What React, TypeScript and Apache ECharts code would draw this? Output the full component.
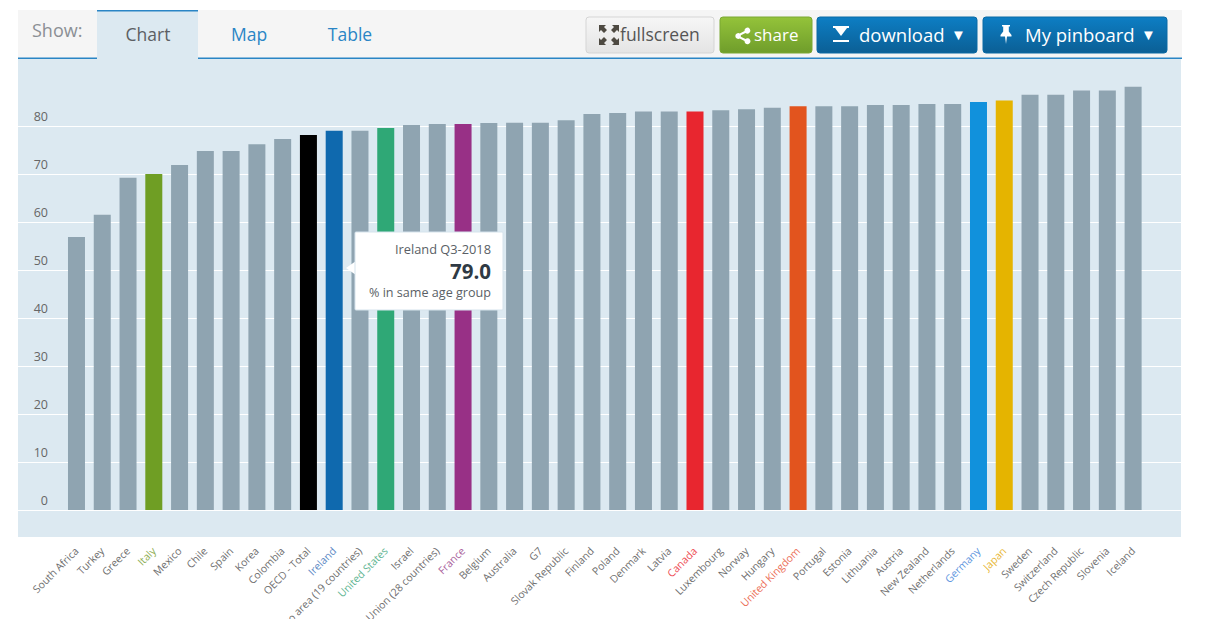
import React, { useEffect, useRef } from "react";
import * as echarts from "echarts";

const categories = ["South Africa","Turkey","Greece","Italy","Mexico","Chile","Spain","Korea","Colombia","OECD - Total","Ireland","Euro area (19 countries)","United States","Israel","European Union (28 countries)","France","Belgium","Australia","G7","Slovak Republic","Finland","Poland","Denmark","Latvia","Canada","Luxembourg","Norway","Hungary","United Kingdom","Portugal","Estonia","Lithuania","Austria","New Zealand","Netherlands","Germany","Japan","Sweden","Switzerland","Czech Republic","Slovenia","Iceland"];
const values = [56.9,61.5,69.2,70.0,71.9,74.8,74.8,76.2,77.3,78.1,79.0,79.0,79.6,80.2,80.4,80.4,80.6,80.7,80.7,81.2,82.5,82.7,83.0,83.0,83.0,83.3,83.5,83.8,84.1,84.1,84.1,84.4,84.4,84.6,84.6,85.0,85.3,86.5,86.5,87.4,87.4,88.2];
const barHighlights: Record<string, string> = { Italy: "#6f9e24", "OECD - Total": "#000000", Ireland: "#0f69ae", "United States": "#2fa876", France: "#983086", Canada: "#e8262f", "United Kingdom": "#e2541e", Germany: "#1191dc", Japan: "#e5b400" };
const labelHighlights: Record<string, string> = { Italy: "#8fae55", Ireland: "#5b88c4", "United States": "#5fb593", France: "#a9619b", Canada: "#ee4d55", "United Kingdom": "#ec6f58", Germany: "#5f97e0", Japan: "#e8b838" };
const tabs = ["Chart", "Map", "Table"];
const tooltipLines = ["Ireland Q3-2018", "79.0", "% in same age group"];
const buttons = ["fullscreen", "share", "download", "My pinboard"];

const FONT = "'Open Sans', 'Noto Sans', sans-serif";
const grad = (a: string, b: string) => new echarts.graphic.LinearGradient(0, 0, 0, 1, [{ offset: 0, color: a }, { offset: 1, color: b }]);

echarts.graphic.registerShape("iconFull", echarts.graphic.extendPath("M0 0H7L5 2L8 5L5 8L2 5L0 7ZM20 0V7L18 5L15 8L12 5L15 2L13 0ZM0 20V13L2 15L5 12L8 15L5 18L7 20ZM20 20H13L15 18L12 15L15 12L18 15L20 13Z", {}));
echarts.graphic.registerShape("iconShare", echarts.graphic.extendPath("M11 0A3 3 0 1 1 10.5 5L5.8 7.3A3 3 0 0 1 5.8 8.7L10.5 11A3 3 0 1 1 9.5 13L4.8 10.6A3 3 0 1 1 4.8 5.4L9.5 3A3 3 0 0 1 11 0Z", {}));
echarts.graphic.registerShape("iconDownload", echarts.graphic.extendPath("M0 0H16V2H14L8 10L2 2H0ZM0 14H16V16H0Z", {}));
echarts.graphic.registerShape("iconPin", echarts.graphic.extendPath("M2 0H10V1.5H8.8V6.5L11.5 10V11.5H7L6 19L5 11.5H0.5V10L3.2 6.5V1.5H2Z", {}));

const txt = (x: number, y: number, text: string, fontSize: number, fill: string, extra: any = {}) => ({
  type: "text", x, y, z: 5,
  style: { text, fontSize, fill, fontFamily: FONT, textVerticalAlign: "middle", verticalAlign: "middle", ...extra },
});
const button = (x: number, w: number, a: string, b: string, stroke: string) => ({
  type: "rect", x, y: 17, z: 3, shape: { width: w, height: 36, r: 3 },
  style: { fill: grad(a, b), stroke, lineWidth: 1 },
});

export default function App() {
  const ref = useRef<HTMLDivElement>(null);
  useEffect(() => {
    const chart = echarts.init(ref.current!, undefined, { renderer: "svg" });
    const tickMax = 90;
    chart.setOption({
      animation: false,
      backgroundColor: "#ffffff",
      textStyle: { fontFamily: FONT },
      grid: [
        { left: 18, width: 1163, top: 78, height: 432, outerBoundsMode: "none" },
        { left: 63.6, width: 1082.4, top: 78, height: 432, outerBoundsMode: "none" },
      ],
      xAxis: [
        { gridIndex: 0, type: "category", data: [], show: false },
        {
          gridIndex: 1, type: "category", data: categories,
          axisLine: { show: false }, axisTick: { show: false },
          axisLabel: {
            interval: 0, rotate: 45, margin: 39, fontSize: 10.5, fontFamily: FONT, padding: [6, 0, 0, 0],
            color: (v: string) => labelHighlights[v] || "#6f6f6f",
          },
        },
      ],
      yAxis: [
        {
          gridIndex: 0, type: "value", min: 0, max: tickMax, interval: 10,
          axisLine: { show: false }, axisTick: { show: false },
          splitLine: { show: true, showMaxLine: false, lineStyle: { color: "#ffffff", width: 1 } },
          axisLabel: {
            inside: true, align: "right", margin: 30, verticalAlign: "bottom", showMaxLabel: false,
            fontSize: 12.5, color: "#666666", fontFamily: FONT, padding: [0, 0, 3, 0],
          },
        },
        { gridIndex: 1, type: "value", min: 0, max: tickMax, show: false },
      ],
      series: [
        {
          type: "bar", xAxisIndex: 1, yAxisIndex: 1, barWidth: 17,
          data: categories.map((c, i) => ({ value: values[i], itemStyle: { color: barHighlights[c] || "#8fa4b1" } })),
        },
      ],
      graphic: [
        { type: "rect", z: -10, x: 18, y: 59, shape: { width: 1163, height: 478 }, style: { fill: "#dce9f1" } },
        { type: "rect", z: -10, x: 18, y: 10, shape: { width: 1164, height: 48 }, style: { fill: "#f5f5f5" } },
        { type: "rect", z: -9, x: 18, y: 57.5, shape: { width: 1164, height: 1.5 }, style: { fill: "#2a85c5" } },
        { type: "rect", z: -8, x: 97, y: 10, shape: { width: 101, height: 49 }, style: { fill: "#dce9f1" } },
        { type: "rect", z: -7, x: 97, y: 10, shape: { width: 101, height: 1.5 }, style: { fill: "#2a85c5" } },
        txt(32, 30, "Show:", 18, "#8b8f94"),
        txt(148, 34, tabs[0], 17.5, "#5c5f63", { textAlign: "center", align: "center" }),
        txt(249, 34, tabs[1], 17.5, "#2a85c5", { textAlign: "center", align: "center" }),
        txt(350, 34, tabs[2], 17.5, "#2a85c5", { textAlign: "center", align: "center" }),

        button(586, 128, "#f6f6f6", "#e4e4e4", "#d5d5d5"),
        { type: "iconFull", x: 599, y: 25, z: 5, style: { fill: "#4e4a42" } },
        txt(620, 34, buttons[0], 17.5, "#555555"),
        button(720, 92, "#94c33a", "#6f9d2b", "#7ba832"),
        { type: "iconShare", x: 735, y: 28, z: 5, style: { fill: "#ffffff" } },
        txt(754, 34, buttons[1], 17, "#ffffff"),
        button(817, 160, "#0d7ec4", "#0b5f95", "#0b6aa5"),
        { type: "iconDownload", x: 833, y: 26, z: 5, style: { fill: "#ffffff" } },
        txt(859, 34, buttons[2], 18.5, "#ffffff"),
        txt(951, 34, "▼", 15, "#ffffff"),
        button(983, 184, "#0d7ec4", "#0b5f95", "#0b6aa5"),
        { type: "iconPin", x: 1000, y: 25, z: 5, style: { fill: "#ffffff" } },
        txt(1025, 34, buttons[3], 18.5, "#ffffff"),
        txt(1141, 34, "▼", 15, "#ffffff"),

        { type: "polygon", z: 20, shape: { points: [[346, 268], [356, 261], [356, 275]] }, style: { fill: "#ffffff" } },
        { type: "rect", z: 20, x: 355, y: 232, shape: { width: 148, height: 78, r: 1 }, style: { fill: "#ffffff", stroke: "#d5e3ec", lineWidth: 1 } },
        { ...txt(491, 249, tooltipLines[0], 12.8, "#5a5f66", { textAlign: "right", align: "right" }), z: 21 },
        { ...txt(491, 271, tooltipLines[1], 20.5, "#2f3a44", { textAlign: "right", align: "right", fontWeight: "bold" }), z: 21 },
        { ...txt(491, 292, tooltipLines[2], 12.6, "#5a5f66", { textAlign: "right", align: "right" }), z: 21 },
      ],
    });
    return () => chart.dispose();
  }, []);
  return <div ref={ref} style={{ position: "fixed", left: 0, top: 0, width: 1211, height: 619 }} />;
}
